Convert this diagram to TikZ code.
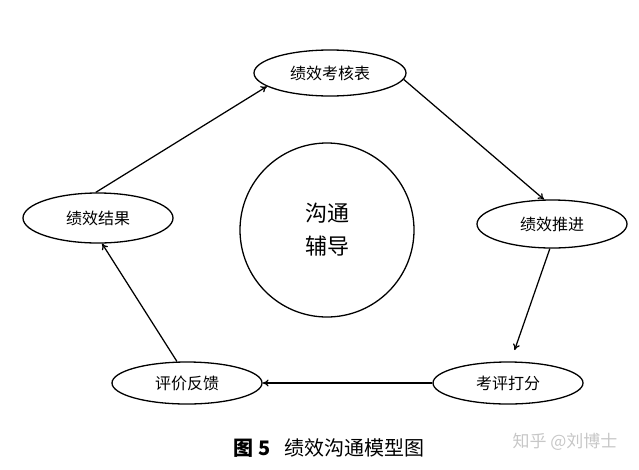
\documentclass[tikz,border=0pt]{standalone}
\usepackage{fontspec}
\setmainfont{Noto Sans CJK SC}
\usetikzlibrary{shapes.geometric,arrows.meta}
\begin{document}
\begin{tikzpicture}[x=1pt,y=-1pt,
  stage/.style={ellipse,draw,line width=1.3pt,minimum width=150pt,minimum height=46pt,inner sep=0pt,font=\fontsize{16}{19}\selectfont},
  flow/.style={-{To[length=6pt,width=7pt]},line width=1.25pt}]
\useasboundingbox (0,0) rectangle (639,469);
\node[stage,minimum width=152pt] (kh) at (330,73) {绩效考核表};
\node[stage,minimum height=48pt] (tj) at (552,224) {绩效推进};
\node[stage,minimum height=42pt] (kp) at (508,383) {考评打分};
\node[stage,minimum height=42pt] (pj) at (187,383) {评价反馈};
\node[stage,minimum height=50pt] (jg) at (98,218) {绩效结果};
\node[circle,draw,line width=1.3pt,minimum size=174pt,inner sep=0pt,align=center,font=\fontsize{22}{33}\selectfont] (fd) at (327,230) {沟通\\辅导};
\draw[flow] (jg.95) -- (kh.192);
\draw[flow] (kh.-5) -- (tj.108);
\draw[flow,shorten >=12pt] (tj.265) -- (kp.83);
\draw[flow] (kp.west) -- (pj.east);
\draw[flow] (pj.115) -- (jg.279);
\node[font=\fontsize{20}{24}\selectfont] (cap) at (329,448) {\textbf{图 5}\hspace{0.7em}绩效沟通模型图};
\node[font=\fontsize{17}{20}\selectfont,text=black!22] (wm) at (565,442) {知乎 @刘博士};
\end{tikzpicture}
\end{document}
